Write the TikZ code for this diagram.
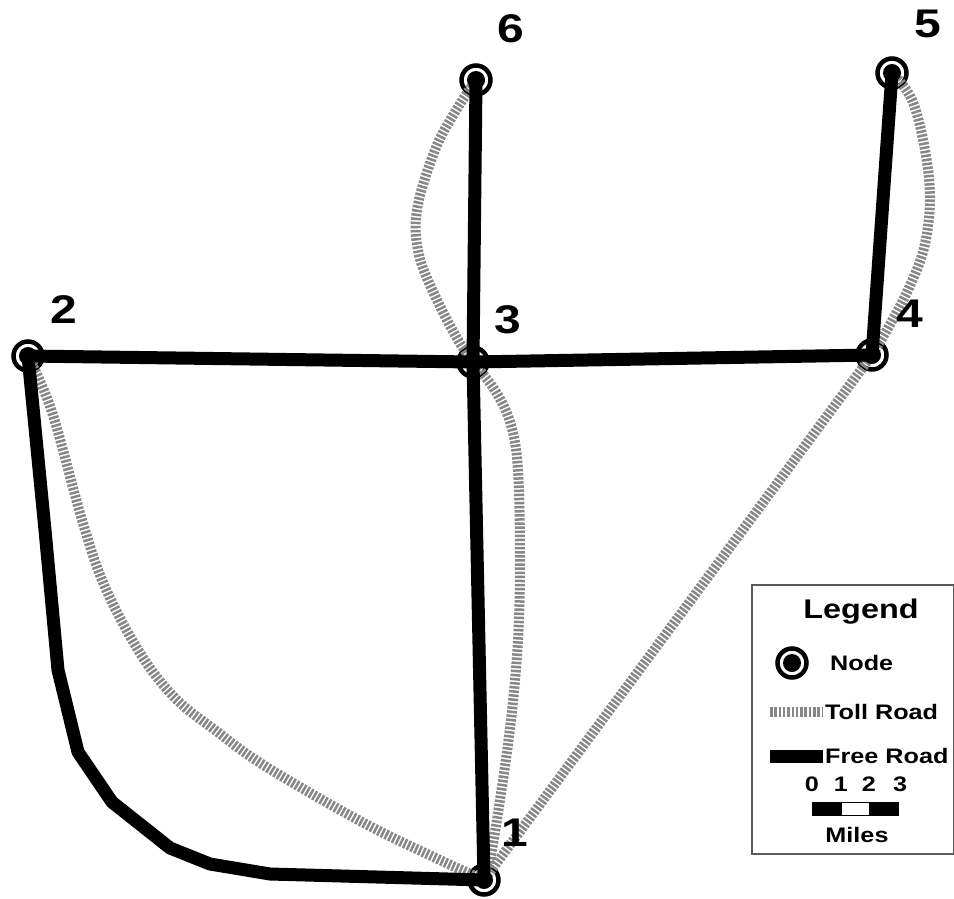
\documentclass[tikz,border=0pt]{standalone}
\usepackage{fontspec}
\setmainfont{Liberation Sans}[FakeStretch=1.2]
\definecolor{tollgray}{RGB}{135,135,135}
\definecolor{boxgray}{RGB}{90,90,90}
\begin{document}
\begin{tikzpicture}[x=1pt,y=-1pt,
  freeroad/.style={line width=13pt, line join=round, draw=black},
  tollroad/.style={line width=10pt, draw=tollgray, dash pattern=on 2.5pt off 1.6pt},
  netnode/.style={circle, draw=black, line width=4.5pt, minimum size=29pt, inner sep=0pt},
  numlab/.style={font=\fontsize{40}{44}\selectfont\bfseries, inner sep=0pt},
  legtext/.style={font=\fontsize{21}{24}\selectfont\bfseries, inner sep=0pt},
  legtitle/.style={font=\fontsize{27}{30}\selectfont\bfseries, inner sep=0pt},
  legbox/.style={draw=boxgray, line width=1.5pt, fill=white, minimum width=202pt, minimum height=269pt, inner sep=0pt}
]
\useasboundingbox (0,0) rectangle (954,898);

% network nodes (rings)
\node[netnode] (n1) at (484,880) {};
\node[netnode] (n2) at (28,356) {};
\node[netnode] (n3) at (473,362) {};
\node[netnode] (n4) at (872,355) {};
\node[netnode] (n5) at (892,73) {};
\node[netnode] (n6) at (476,80) {};

% toll roads
\draw[tollroad] plot[smooth, tension=0.6] coordinates {(n6.center) (455,112) (435,150) (417,210) (419,255) (437,300) (458,340) (n3.center)};
\draw[tollroad] plot[smooth, tension=0.6] coordinates {(n5.center) (912,100) (925,150) (930,200) (924,248) (908,290) (888,328) (n4.center)};
\draw[tollroad] plot[smooth, tension=0.6] coordinates {(n3.center) (496,392) (511,425) (518,470) (520,560) (518,640) (511,720) (500,800) (490,860) (n1.center)};
\draw[tollroad] plot[smooth, tension=0.6] coordinates {(n2.center) (52,412) (82,520) (105,587) (140,653) (175,698) (215,730) (265,766) (362,822) (440,860) (n1.center)};
\draw[tollroad] (n4.center) -- (n1.center);

% free roads
\draw[freeroad] (n6.center) -- (n3.center);
\draw[freeroad] (n5.center) -- (n4.center);
\draw[freeroad] (n2.center) -- (n3.center);
\draw[freeroad] (n3.center) -- (n4.center);
\draw[freeroad] (n3.center) -- (n1.center);
\draw[freeroad] (n2.center) -- (45,530) -- (58,670) -- (78,752) -- (112,802) -- (170,848) -- (210,864) -- (270,874) -- (n1.center);

% node centres
\foreach \n in {n1,n2,n3,n4,n5,n6}{
  \fill[black] (\n.center) circle (9pt);
}

% node labels
\node[numlab] (l1) at (515,833) {1};
\node[numlab] (l2) at (64,310) {2};
\node[numlab] (l3) at (508,320) {3};
\node[numlab] (l4) at (910,314) {4};
\node[numlab] (l5) at (928,24) {5};
\node[numlab] (l6) at (511,29) {6};

% legend
\node[legbox, anchor=north west] (legend) at (751,584) {};
\node[legtitle] (legt) at (861,612) {Legend};
\node[netnode] (legnode) at (792,663) {};
\fill[black] (legnode.center) circle (9pt);
\node[legtext, anchor=west] (legnodetxt) at (830,663) {Node};
\coordinate (tolla) at (770,712);
\coordinate (tollb) at (823,712);
\draw[tollroad, dash pattern=on 2.5pt off 1.8pt] (tolla) -- (tollb);
\node[legtext, anchor=west] (legtoll) at (825,712) {Toll Road};
\coordinate (freea) at (770,756);
\coordinate (freeb) at (823,756);
\draw[freeroad] (freea) -- (freeb);
\node[legtext, anchor=west] (legfree) at (825,756) {Free Road};
\node[legtext] (s0) at (812,784) {0};
\node[legtext] (s1) at (841,784) {1};
\node[legtext] (s2) at (869,784) {2};
\node[legtext] (s3) at (900,784) {3};
\draw[black, line width=1pt, fill=black] (812,802) rectangle (841,815);
\draw[black, line width=1pt, fill=white] (841,802) rectangle (869,815);
\draw[black, line width=1pt, fill=black] (869,802) rectangle (898,815);
\node[legtext] (miles) at (857,835) {Miles};
\end{tikzpicture}
\end{document}
